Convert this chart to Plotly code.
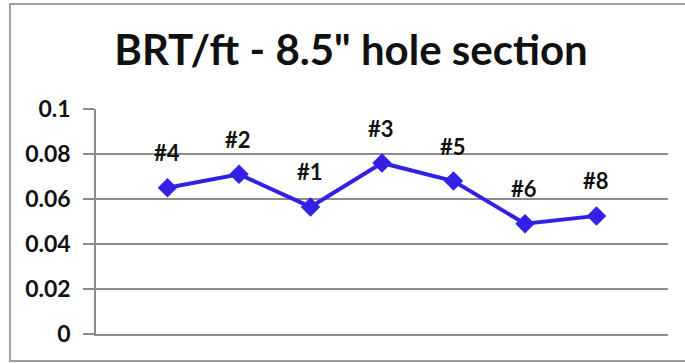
import plotly.graph_objects as go

# Data
labels = ["#4", "#2", "#1", "#3", "#5", "#6", "#8"]
positions = [1, 2, 3, 4, 5, 6, 7]
values = [0.065, 0.071, 0.0565, 0.076, 0.068, 0.049, 0.0525]
y_ticks = [0, 0.02, 0.04, 0.06, 0.08, 0.1]
y_tick_text = ["0", "0.02", "0.04", "0.06", "0.08", "0.1"]
title_text = "BRT/ft - 8.5\" hole section"

W, H = 685, 363
L, R, T, B = 96, 17, 109, 29
FONT = "Lato"
LINE_COLOR = "rgb(52,32,228)"
GRID = "#8c8c8c"

fig = go.Figure()
fig.add_trace(go.Scatter(
    x=positions, y=values, mode="lines+markers",
    line=dict(color=LINE_COLOR, width=4),
    marker=dict(symbol="diamond", size=15, color=LINE_COLOR),
    hoverinfo="skip", showlegend=False,
))

for xv, yv, lab in zip(positions, values, labels):
    fig.add_annotation(x=xv, y=yv, text=lab, showarrow=False, yshift=35,
                       xshift=-1,
                       font=dict(family=FONT, size=22, color="#111111", weight="bold"))

pw = W - L - R
ph = H - T - B
# outer chart border (paper coords)
fig.add_shape(type="rect", xref="paper", yref="paper",
              x0=(10 - L) / pw, x1=(690 - L) / pw,
              y0=(H - B - 361) / ph, y1=(H - B - 4) / ph,
              line=dict(color="#a0a0a0", width=2), layer="below")

fig.update_layout(
    width=W, height=H,
    margin=dict(l=L, r=R, t=T, b=B),
    paper_bgcolor="white", plot_bgcolor="white",
    title=dict(text=title_text, x=351 / W, xanchor="center",
               y=1 - 50 / H, yanchor="middle",
               font=dict(family=FONT, size=42, color="#111111", weight="bold")),
    xaxis=dict(range=[0, 8], showgrid=False, zeroline=False,
               showticklabels=False, ticks="", showline=True,
               linecolor=GRID, linewidth=1.5, fixedrange=True),
    yaxis=dict(range=[0, 0.1], tickvals=y_ticks, ticktext=y_tick_text,
               showgrid=True, gridcolor=GRID, gridwidth=1.5,
               zeroline=False, showline=True, linecolor=GRID, linewidth=1.5,
               ticks="outside", ticklen=11, tickcolor=GRID, tickwidth=1.5,
               ticklabelstandoff=8,
               tickfont=dict(family=FONT, size=23, color="#111111", weight="bold"),
               fixedrange=True),
)

fig.write_html("out.html", config={"displayModeBar": False},
               post_script="document.body.style.margin='0';")
